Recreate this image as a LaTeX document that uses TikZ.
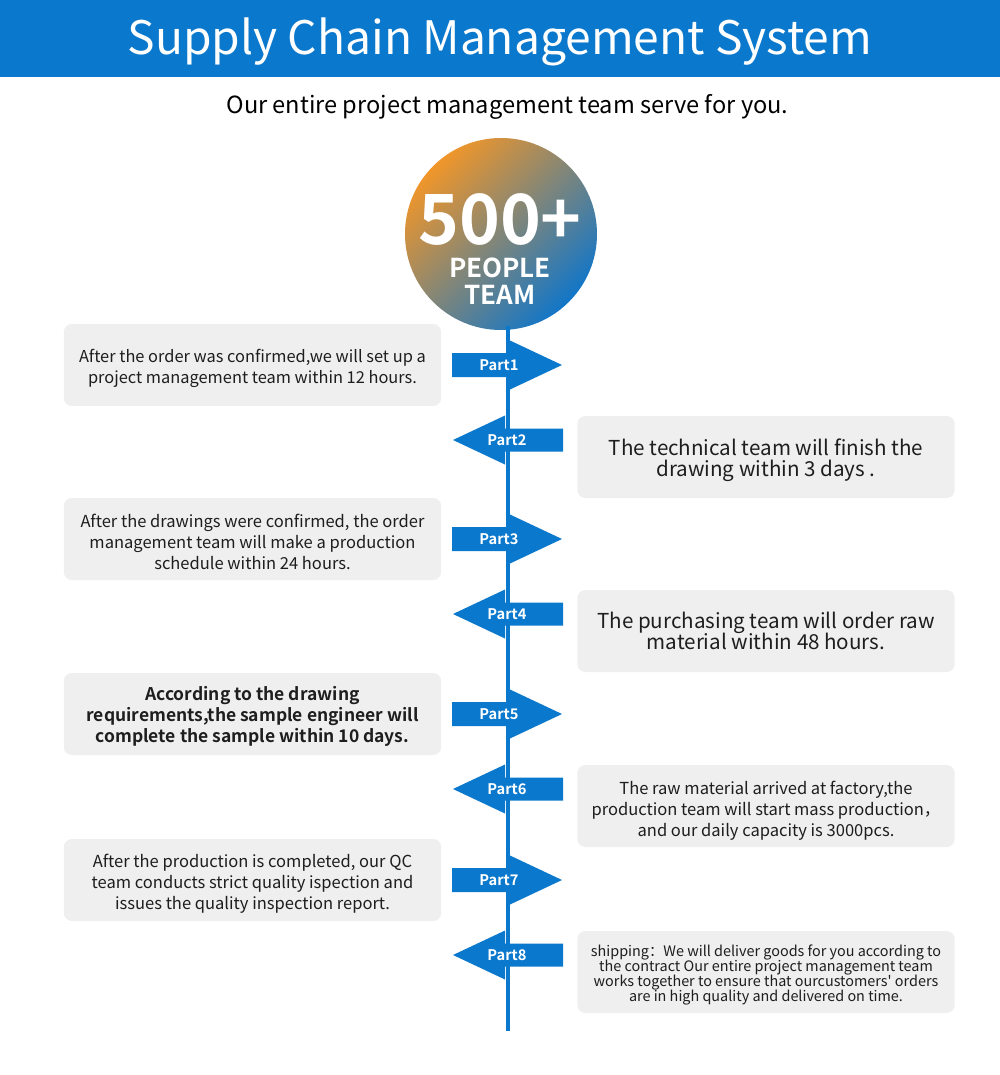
\documentclass[tikz,border=0pt]{standalone}
\usepackage{fontspec}
\setmainfont{Noto Sans CJK SC}[BoldFont={Noto Sans CJK SC Bold},Ligatures=TeXOff]
\usetikzlibrary{positioning}
\definecolor{scmblue}{HTML}{0A78CC}
\definecolor{boxgray}{HTML}{EFEFEF}
\definecolor{teamorange}{HTML}{F0962A}
\definecolor{teamblue}{HTML}{1276C8}
\definecolor{txtdark}{HTML}{1E1E1E}
\lineskiplimit=-20pt
\tikzset{
  infobox/.style={fill=boxgray, rounded corners=6pt, minimum width=283pt, minimum height=61.5pt, inner sep=0pt},
  boxtext/.style={align=center, text=txtdark, inner sep=0pt},
  partlabel/.style={text=white, font=\bfseries\fontsize{11}{12}\selectfont, inner sep=0pt},
  partarrow/.style={fill=scmblue}
}
\begin{document}
\begin{tikzpicture}[x=0.75pt,y=-0.75pt]
\useasboundingbox (0,0) rectangle (1000,1075);
% header
\fill[scmblue] (0,0) rectangle (1000,77);
\node[text=white, font=\fontsize{34.6}{40}\selectfont] (title) at (500,42) {Supply Chain Management System};
\node[text=black, font=\fontsize{17.7}{20}\selectfont] (subtitle) at (507.5,107) {Our entire project management team serve for you.};
% team circle
\node[circle, minimum size=144pt, inner sep=0pt, top color=teamorange, bottom color=teamblue, shading angle=45] (team) at (501,234) {};
\node[text=white, font=\bfseries\fontsize{52}{60}\selectfont] (num) at (500,219) {500+};
\node[text=white, font=\bfseries\fontsize{19.5}{21}\selectfont, align=center] (people) at (500,281) {PEOPLE\\[-1pt]TEAM};
% time line
\coordinate (linetop) at (508,326);
\coordinate (linebot) at (508,1031);
\draw[scmblue, line width=3pt] (linetop) -- (linebot);
% arrows to the right
\foreach \n/\y in {1/365,3/539,5/714,7/880} {
  \fill[partarrow] (452,\y-12) -- (510,\y-12) -- (510,\y-24.5) -- (562,\y) -- (510,\y+24.5) -- (510,\y+12) -- (452,\y+12) -- cycle;
  \node[partlabel] (part\n) at (499,\y) {Part\n};
}
% arrows to the left
\foreach \n/\y in {2/440,4/614,6/789,8/955} {
  \fill[partarrow] (453,\y) -- (505,\y-24.5) -- (505,\y-11.5) -- (563,\y-11.5) -- (563,\y+11.5) -- (505,\y+11.5) -- (505,\y+24.5) -- cycle;
  \node[partlabel] (part\n) at (507,\y) {Part\n};
}
% text boxes
\foreach \n/\x/\y in {1/252.5/365,2/766/457,3/252.5/539,4/766/631,5/252.5/714,6/766/806,7/252.5/880,8/766/972}
  \node[infobox] (box\n) at (\x,\y) {};
\node[boxtext, font=\fontsize{12.3}{15.75}\selectfont] (text1) at ([yshift=-2.5pt]box1.center) {After the order was confirmed,we will set up a\\project management team within 12 hours.};
\node[boxtext, font=\fontsize{15.45}{15.75}\selectfont] (text2) at ([yshift=-2.5pt]box2.center) {The technical team will finish the\\drawing within 3 days .};
\node[boxtext, font=\fontsize{12.4}{15.75}\selectfont] (text3) at ([yshift=-2pt]box3.center) {After the drawings were confirmed, the order\\management team will make a production\\schedule within 24 hours.};
\node[boxtext, font=\fontsize{15.45}{15.75}\selectfont] (text4) at ([yshift=0pt]box4.center) {The purchasing team will order raw\\material within 48 hours.};
\node[boxtext, font=\bfseries\fontsize{13.1}{15.75}\selectfont] (text5) at ([yshift=-1.5pt]box5.center) {According to the drawing\\requirements,the sample engineer will\\complete the sample within 10 days.};
\node[boxtext, font=\fontsize{12.4}{15.75}\selectfont] (text6) at ([yshift=-3.5pt]box6.center) {The raw material arrived at factory,the\\production team will start mass production，\\and our daily capacity is 3000pcs.};
\node[boxtext, font=\fontsize{12.4}{15.75}\selectfont] (text7) at ([yshift=-2.5pt]box7.center) {After the production is completed, our QC\\team conducts strict quality ispection and\\issues the quality inspection report.};
\node[boxtext, font=\fontsize{10.8}{11.25}\selectfont] (text8) at ([yshift=-2pt]box8.center) {shipping：We will deliver goods for you according to\\the contract Our entire project management team\\works together to ensure that ourcustomers' orders\\are in high quality and delivered on time.};
\end{tikzpicture}
\end{document}
